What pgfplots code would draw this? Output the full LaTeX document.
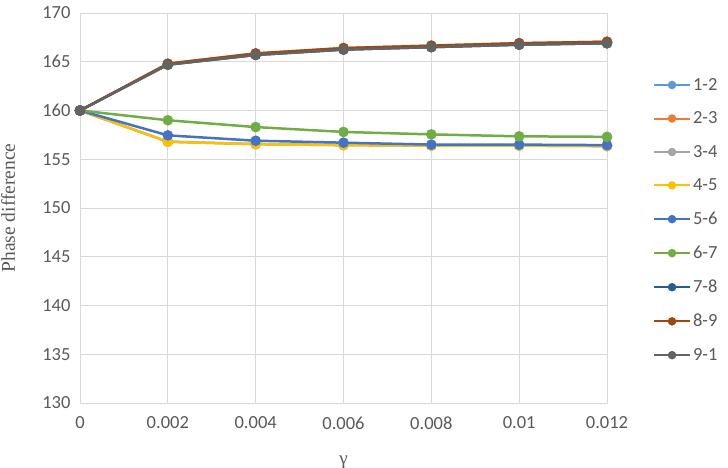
\documentclass[border=0pt]{standalone}
\usepackage{pgfplots}
\pgfplotsset{compat=1.18}
\usepackage{fontspec}
\setmainfont{Carlito}
\newfontfamily\seriffont{Liberation Serif}
\definecolor{c12}{HTML}{5B9BD5}
\definecolor{c23}{HTML}{ED7D31}
\definecolor{c34}{HTML}{A5A5A5}
\definecolor{c45}{HTML}{FFC000}
\definecolor{c56}{HTML}{4472C4}
\definecolor{c67}{HTML}{70AD47}
\definecolor{c78}{HTML}{255E91}
\definecolor{c89}{HTML}{9E480E}
\definecolor{c91}{HTML}{636363}
\definecolor{gridgray}{HTML}{D9D9D9}
\definecolor{labelgray}{HTML}{595959}
\begin{document}
\begin{tikzpicture}
\begin{axis}[
  scale only axis, width=527pt, height=390pt,
  xmin=0, xmax=0.012, ymin=130, ymax=170,
  scaled x ticks=false,
  xtick={0,0.002,0.004,0.006,0.008,0.01,0.012},
  xticklabels={0,0.002,0.004,0.006,0.008,0.01,0.012},
  ytick={130,135,140,145,150,155,160,165,170},
  grid=major, grid style={draw=gridgray, line width=0.9pt},
  axis line style={draw=gridgray, line width=0.9pt},
  tick style={draw=none},
  /pgf/number format/assume math mode=true,
  ticklabel style={font=\fontsize{18.5}{21}\selectfont, text=labelgray},
  xticklabel style={yshift=-10pt},
  yticklabel style={xshift=-6pt},
  xlabel={\seriffont γ},
  ylabel={\seriffont Phase difference},
  xlabel style={at={(axis description cs:0.5,-0.1513)}, anchor=center, font=\fontsize{19}{22}\selectfont, text=labelgray},
  ylabel style={at={(axis description cs:-0.1366,0.5)}, anchor=center, font=\fontsize{19.5}{22}\selectfont, text=labelgray},
  every axis plot/.append style={line width=2.5pt, mark=*, mark size=4pt},
  legend style={at={(axis description cs:1.087,0.469)}, anchor=west, draw=none, fill=none,
    font=\fontsize{18.5}{21}\selectfont, text=labelgray, row sep=16pt, inner sep=0pt},
  legend cell align=left,
  legend image code/.code={\draw[mark repeat=2,mark phase=2,mark size=3.2pt,line width=2pt] plot coordinates {(0pt,0pt)(18pt,0pt)(36pt,0pt)};},
]
\addplot[color=c12] coordinates {(0,160)(0.002,156.8)(0.004,156.55)(0.006,156.45)(0.008,156.4)(0.01,156.4)(0.012,156.35)};
\addplot[color=c23] coordinates {(0,160)(0.002,164.8)(0.004,165.85)(0.006,166.4)(0.008,166.65)(0.01,166.9)(0.012,167.05)};
\addplot[color=c34] coordinates {(0,160)(0.002,164.7)(0.004,165.7)(0.006,166.25)(0.008,166.5)(0.01,166.75)(0.012,166.9)};
\addplot[color=c45] coordinates {(0,160)(0.002,156.8)(0.004,156.55)(0.006,156.45)(0.008,156.4)(0.01,156.4)(0.012,156.35)};
\addplot[color=c56] coordinates {(0,160)(0.002,157.45)(0.004,156.9)(0.006,156.7)(0.008,156.5)(0.01,156.5)(0.012,156.45)};
\addplot[color=c67] coordinates {(0,160)(0.002,159.0)(0.004,158.3)(0.006,157.8)(0.008,157.55)(0.01,157.35)(0.012,157.3)};
\addplot[color=c78] coordinates {(0,160)(0.002,164.7)(0.004,165.7)(0.006,166.25)(0.008,166.5)(0.01,166.75)(0.012,166.9)};
\addplot[color=c89] coordinates {(0,160)(0.002,164.8)(0.004,165.85)(0.006,166.4)(0.008,166.65)(0.01,166.9)(0.012,167.05)};
\addplot[color=c91] coordinates {(0,160)(0.002,164.7)(0.004,165.7)(0.006,166.25)(0.008,166.5)(0.01,166.75)(0.012,166.9)};
\legend{1-2,2-3,3-4,4-5,5-6,6-7,7-8,8-9,9-1}
\coordinate (A) at (rel axis cs:0,0);
\coordinate (B) at (rel axis cs:1,1);
\end{axis}
\pgfresetboundingbox
\path ([xshift=-80pt,yshift=-65pt]A) rectangle ([xshift=121pt,yshift=13pt]B);
\end{tikzpicture}
\end{document}
